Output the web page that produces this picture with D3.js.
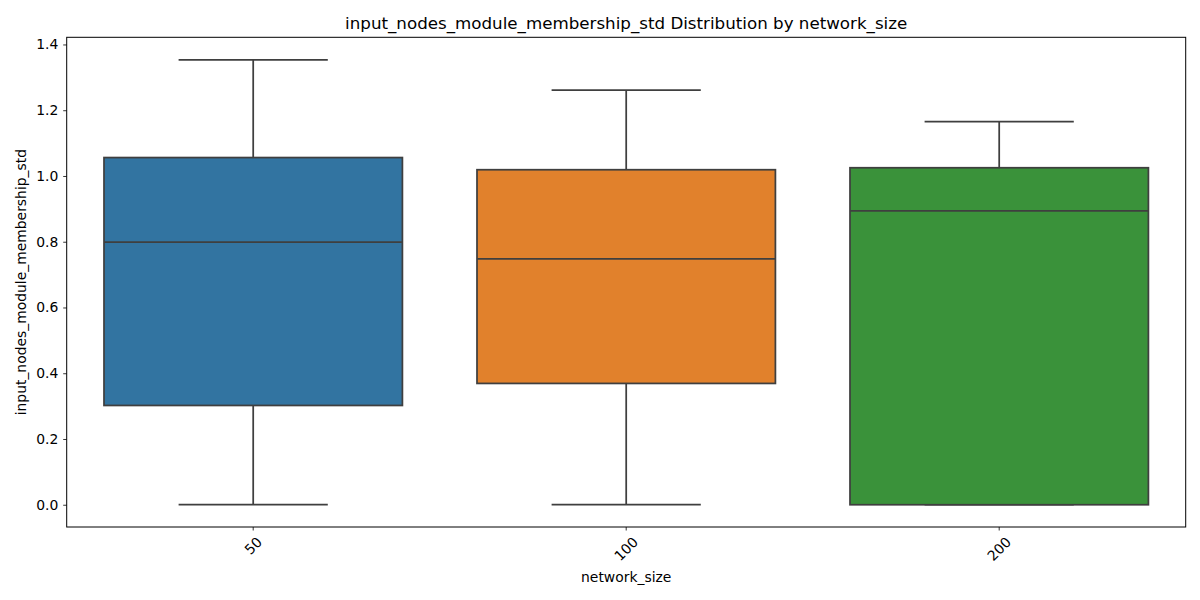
<!DOCTYPE html>
<html>
<head>
<meta charset="utf-8">
<script src="https://cdn.jsdelivr.net/npm/d3@7"></script>
<style>
  body { margin: 0; background: #fff; }
  svg { display: block; font-family: "DejaVu Sans", sans-serif; }
</style>
</head>
<body>
<svg id="chart" width="1200" height="600"></svg>
<script>
const categories = ["50", "100", "200"];
const whiskerLow = [0.0, 0.0, 0.0];
const q1 = [0.302, 0.369, 0.0];
const median = [0.799, 0.748, 0.894];
const q3 = [1.056, 1.019, 1.025];
const whiskerHigh = [1.353, 1.261, 1.165];
const colors = ["#3274a1", "#e1812c", "#3a923a"];
const yTicks = [0.0, 0.2, 0.4, 0.6, 0.8, 1.0, 1.2, 1.4];

const svg = d3.select("#chart");
const L = 66.7, R = 1185.7, T = 37.3, B = 527;

const x = d3.scaleBand().domain(categories).range([L, R]).paddingInner(0).paddingOuter(0);
const y = d3.scaleLinear().domain([-0.0677, 1.4218]).range([B, T]);

const edge = "#3f3f3f";
const lw = 1.75;
const bw = x.bandwidth() * 0.8;

const g = svg.append("g");
categories.forEach((c, i) => {
  const cx = x(c) + x.bandwidth() / 2;
  // whiskers
  g.append("line").attr("x1", cx).attr("x2", cx).attr("y1", y(q3[i])).attr("y2", y(whiskerHigh[i]))
    .attr("stroke", edge).attr("stroke-width", lw);
  g.append("line").attr("x1", cx).attr("x2", cx).attr("y1", y(q1[i])).attr("y2", y(whiskerLow[i]))
    .attr("stroke", edge).attr("stroke-width", lw);
  // caps
  [whiskerHigh[i], whiskerLow[i]].forEach(v => {
    g.append("line").attr("x1", cx - bw / 4).attr("x2", cx + bw / 4).attr("y1", y(v)).attr("y2", y(v))
      .attr("stroke", edge).attr("stroke-width", lw);
  });
  // box
  g.append("rect").attr("x", cx - bw / 2).attr("width", bw)
    .attr("y", y(q3[i])).attr("height", y(q1[i]) - y(q3[i]))
    .attr("fill", colors[i]).attr("stroke", edge).attr("stroke-width", lw);
  // median
  g.append("line").attr("x1", cx - bw / 2).attr("x2", cx + bw / 2).attr("y1", y(median[i])).attr("y2", y(median[i]))
    .attr("stroke", edge).attr("stroke-width", lw);
});

// frame
svg.append("rect").attr("x", L).attr("y", T).attr("width", R - L).attr("height", B - T)
  .attr("fill", "none").attr("stroke", "#000").attr("stroke-width", 1);

// y axis
const yAxis = d3.axisLeft(y).tickValues(yTicks).tickFormat(d3.format(".1f")).tickSize(3.5).tickPadding(4.9);
const ya = svg.append("g").attr("transform", `translate(${L},0)`).call(yAxis);
ya.select(".domain").remove();
ya.selectAll("line").attr("stroke", "#000").attr("stroke-width", 0.8);
ya.selectAll("text").attr("font-size", "13.9px").attr("fill", "#000").attr("font-family", "DejaVu Sans");

// x axis
const xAxis = d3.axisBottom(x).tickSize(3.5).tickFormat(() => "");
const xa = svg.append("g").attr("transform", `translate(0,${B})`).call(xAxis);
xa.select(".domain").remove();
xa.selectAll("line").attr("stroke", "#000").attr("stroke-width", 0.8);

categories.forEach(c => {
  const cx = x(c) + x.bandwidth() / 2;
  const t = svg.append("text").text(c).attr("font-size", "13.9px").attr("fill", "#000")
    .attr("text-anchor", "middle").attr("dominant-baseline", "central");
  const w = t.node().getComputedTextLength();
  const h = 13.9 * 0.85;
  const bb = (w + h) * Math.SQRT1_2;
  const cy = B + 3.5 + 4.9 + bb / 2;
  t.attr("transform", `translate(${cx},${cy}) rotate(-45)`);
});

// labels
svg.append("text").text("network_size").attr("x", (L + R) / 2).attr("y", 582)
  .attr("text-anchor", "middle").attr("font-size", "13.9px").attr("fill", "#000");
svg.append("text").text("input_nodes_module_membership_std")
  .attr("transform", `translate(26,${(T + B) / 2}) rotate(-90)`)
  .attr("text-anchor", "middle").attr("font-size", "13.9px").attr("fill", "#000");
svg.append("text").text("input_nodes_module_membership_std Distribution by network_size")
  .attr("x", (L + R) / 2).attr("y", 29).attr("text-anchor", "middle")
  .attr("font-size", "16.7px").attr("fill", "#000");
</script>
</body>
</html>
